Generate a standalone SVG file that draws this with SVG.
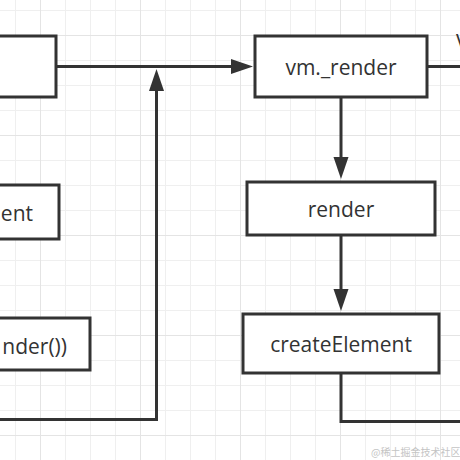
<svg xmlns="http://www.w3.org/2000/svg" width="460" height="460" viewBox="0 0 460 460">
  <defs>
    <pattern id="gridMinor" x="15" y="10" width="25" height="25" patternUnits="userSpaceOnUse">
      <path d="M0.5,0 V25 M0,0.5 H25" fill="none" stroke="#efefef" stroke-width="1"/>
    </pattern>
    <pattern id="gridMajor" x="40" y="35" width="100" height="100" patternUnits="userSpaceOnUse">
      <path d="M0.5,0 V100 M0,0.5 H100" fill="none" stroke="#e4e4e4" stroke-width="1"/>
    </pattern>
    <marker id="arrow" markerUnits="userSpaceOnUse" markerWidth="24" markerHeight="16" refX="1" refY="7.5" orient="auto">
      <path d="M0,0 L22,7.5 L0,15 Z" fill="#333"/>
    </marker>
    <style>
      .box { fill: #ffffff; stroke: #333333; stroke-width: 3; }
      .edge { fill: none; stroke: #333333; stroke-width: 3; }
      .label { font-family: "Open Sans", "Noto Sans", "DejaVu Sans", sans-serif; font-size: 21px; fill: #333333; }
      .mark { font-family: "Noto Sans CJK SC", "Noto Sans", sans-serif; font-size: 10px; fill: #c4c4c4; }
    </style>
  </defs>
  <rect x="0" y="0" width="460" height="460" fill="#ffffff"/>
  <rect x="0" y="0" width="460" height="460" fill="url(#gridMinor)"/>
  <rect x="0" y="0" width="460" height="460" fill="url(#gridMajor)"/>

  <g id="connectors">
    <path class="edge" d="M56,66.5 H232" marker-end="url(#arrow)"/>
    <path class="edge" d="M0,419.5 H156.5 V90" marker-end="url(#arrow)"/>
    <path class="edge" d="M427,66.5 H460"/>
    <path class="edge" d="M341,97 V158" marker-end="url(#arrow)"/>
    <path class="edge" d="M341,235 V290" marker-end="url(#arrow)"/>
    <path class="edge" d="M341,373 V421.5 H460"/>
  </g>

  <g id="node-topleft">
    <rect class="box" x="-20" y="36" width="76" height="61"/>
  </g>
  <g id="node-vm-render">
    <rect class="box" x="255" y="36" width="172" height="61"/>
    <text class="label" x="341" y="74.5" text-anchor="middle">vm._render</text>
  </g>
  <g id="node-ent">
    <rect class="box" x="-20" y="185" width="79" height="54"/>
    <text class="label" x="33" y="220.5" text-anchor="end">ent</text>
  </g>
  <g id="node-render">
    <rect class="box" x="247" y="182" width="188" height="53"/>
    <text class="label" x="341" y="216.5" text-anchor="middle">render</text>
  </g>
  <g id="node-nder">
    <rect class="box" x="-20" y="318" width="110" height="52"/>
    <text class="label" x="67" y="353.5" text-anchor="end">nder())</text>
  </g>
  <g id="node-createElement">
    <rect class="box" x="243" y="314" width="196" height="59"/>
    <text class="label" x="341" y="351.5" text-anchor="middle">createElement</text>
  </g>
  <g id="node-v-label">
    <text class="label" x="456" y="50">V</text>
  </g>
  <text class="mark" x="371" y="456">@稀土掘金技术社区</text>
</svg>
